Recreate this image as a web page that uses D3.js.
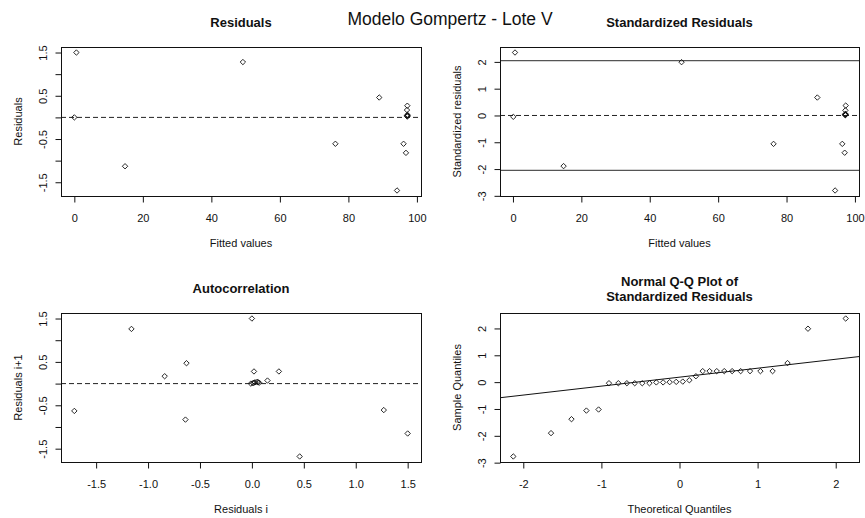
<!DOCTYPE html>
<html>
<head>
<meta charset="utf-8">
<script src="https://cdn.jsdelivr.net/npm/d3@7"></script>
<style>
  body { margin: 0; background: #fff; }
  text { font-family: "Liberation Sans", Arial, sans-serif; fill: #111; }
</style>
</head>
<body>
<svg id="chart" width="865" height="518"></svg>
<script>
// residuals vs fitted
var res_fitted = [0.6, 0.0, 14.8, 49.2, 76.2, 89.0, 97.2, 97.1, 97.2, 97.1, 97.3, 97.2, 97.2, 96.1, 96.8, 94.2];
var res_values = [1.50, 0.00, -1.13, 1.28, -0.61, 0.46, 0.27, 0.17, 0.06, 0.04, 0.05, 0.03, 0.02, -0.61, -0.82, -1.69];

// standardized residuals vs fitted
var std_fitted = [0.6, 0.1, 14.8, 49.3, 76.2, 89.0, 97.3, 97.2, 97.2, 97.1, 97.3, 97.2, 97.2, 96.3, 97.0, 94.2];
var std_values = [2.35, -0.05, -1.89, 1.99, -1.06, 0.67, 0.37, 0.19, 0.06, 0.03, 0.04, 0.02, 0.01, -1.06, -1.39, -2.80];
var std_limit = 2.05;

// autocorrelation: residual i vs residual i+1
var auto_i  = [-1.71, -1.16, -0.84, -0.63, -0.64, 0.00, 0.02, 0.26, 0.15, 0.06, -0.01, 0.01, 0.02, 0.03, 0.05, 0.07, 0.46, 1.27, 1.50];
var auto_i1 = [-0.63, 1.26, 0.17, 0.47, -0.83, 1.50, 0.28, 0.28, 0.07, 0.03, 0.00, 0.01, 0.02, 0.03, 0.04, 0.02, -1.68, -0.61, -1.15];

// normal Q-Q
var qq_theoretical = [-2.128, -1.645, -1.383, -1.192, -1.036, -0.903, -0.783, -0.674, -0.573, -0.477,
                      -0.385, -0.297, -0.210, -0.126, -0.042, 0.042, 0.126, 0.210, 0.297, 0.385,
                      0.477, 0.573, 0.674, 0.783, 0.903, 1.036, 1.192, 1.383, 1.645, 2.128];
var qq_sample = [-2.77, -1.90, -1.38, -1.06, -1.02, -0.04, -0.04, -0.04, -0.04, -0.04,
                 -0.04, -0.01, -0.01, 0.00, 0.01, 0.02, 0.07, 0.22, 0.41, 0.41,
                 0.41, 0.41, 0.41, 0.41, 0.41, 0.41, 0.41, 0.71, 1.99, 2.37];

// ticks
var fitted_ticks = [0, 20, 40, 60, 80, 100];
var res_ticks = [-1.5, -1, -0.5, 0, 0.5, 1, 1.5];
var res_tick_labels = [-1.5, -0.5, 0.5, 1.5];
var std_ticks = [-3, -2, -1, 0, 1, 2];
var auto_x_ticks = [-1.5, -1, -0.5, 0, 0.5, 1, 1.5];
var qq_x_ticks = [-2, -1, 0, 1, 2];

var svg = d3.select('#chart');

function pad(ext){
  var d = (ext[1] - ext[0]) * 0.04;
  return [ext[0] - d, ext[1] + d];
}

function draw_panel(p){
  var x = d3.scaleLinear().domain(pad(d3.extent(p.xs))).range([p.x0, p.x1]);
  var y = d3.scaleLinear().domain(pad(d3.extent(p.ys))).range([p.y1, p.y0]);
  var g = svg.append('g');

  // reference lines
  (p.dashed || []).forEach(function(v){
    g.append('line')
      .attr('x1', p.x0).attr('x2', p.x1)
      .attr('y1', y(v)).attr('y2', y(v))
      .attr('stroke', '#222').attr('stroke-dasharray', '5,3');
  });
  (p.solid || []).forEach(function(v){
    g.append('line')
      .attr('x1', p.x0).attr('x2', p.x1)
      .attr('y1', y(v)).attr('y2', y(v))
      .attr('stroke', '#555').attr('stroke-width', 1.2);
  });
  if (p.abline) {
    var xd = x.domain();
    g.append('line')
      .attr('x1', x(xd[0])).attr('x2', x(xd[1]))
      .attr('y1', y(p.abline[0] + p.abline[1] * xd[0]))
      .attr('y2', y(p.abline[0] + p.abline[1] * xd[1]))
      .attr('stroke', '#111');
  }

  // points
  g.selectAll('.pt')
    .data(p.xs.map(function(d, i){ return [d, p.ys[i]]; }))
    .enter().append('path')
    .attr('class', 'pt')
    .attr('d', 'M0,-2.7L2.7,0L0,2.7L-2.7,0Z')
    .attr('transform', function(d){ return 'translate(' + x(d[0]) + ',' + y(d[1]) + ')'; })
    .attr('fill', 'none')
    .attr('stroke', '#111')
    .attr('stroke-width', 0.9);

  // box
  g.append('rect')
    .attr('x', p.x0 + 0.5).attr('y', p.y0 + 0.5)
    .attr('width', p.x1 - p.x0).attr('height', p.y1 - p.y0)
    .attr('fill', 'none').attr('stroke', '#111');

  // x axis
  var xa = g.append('g')
    .attr('transform', 'translate(0,' + (p.y1 + 0.5) + ')')
    .call(d3.axisBottom(x).tickValues(p.xticks).tickSize(6).tickPadding(12)
      .tickFormat(p.xfmt || d3.format('')));
  xa.select('.domain').remove();
  xa.selectAll('line').attr('stroke', '#111');
  xa.selectAll('text').attr('font-size', '11px').attr('fill', '#111');
  xa.selectAll('text').text(function(){ return this.textContent.replace('\u2212', '-'); });

  // y axis, labels rotated like R
  var ya = g.append('g')
    .attr('transform', 'translate(' + (p.x0 + 0.5) + ',0)')
    .call(d3.axisLeft(y).tickValues(p.yticks).tickSize(6)
      .tickFormat(function(d){
        if (p.ylabels && p.ylabels.indexOf(d) < 0) return '';
        return (p.yfmt || d3.format(''))(d).replace('\u2212', '-');
      }));
  ya.select('.domain').remove();
  ya.selectAll('line').attr('stroke', '#111');
  ya.selectAll('text')
    .attr('x', null)
    .attr('transform', 'translate(-18,0) rotate(-90)')
    .attr('dy', '0.35em')
    .attr('text-anchor', 'middle')
    .attr('font-size', '11px').attr('fill', '#111');

  // axis titles
  g.append('text')
    .attr('x', (p.x0 + p.x1) / 2).attr('y', p.y1 + 51)
    .attr('text-anchor', 'middle').attr('font-size', '11px')
    .text(p.xlabel);
  g.append('text')
    .attr('transform', 'translate(' + (p.x0 - 42.5) + ',' + ((p.y0 + p.y1) / 2) + ') rotate(-90)')
    .attr('dy', '0.35em')
    .attr('text-anchor', 'middle').attr('font-size', '11px')
    .text(p.ylabel);

  // panel title
  var n = p.title.length;
  p.title.forEach(function(t, i){
    g.append('text')
      .attr('x', (p.x0 + p.x1) / 2)
      .attr('y', p.y0 - 20.5 - (n - 1 - i) * 15 + (n > 1 ? 8 : 0))
      .attr('text-anchor', 'middle')
      .attr('font-size', '13px').attr('font-weight', 'bold')
      .text(t);
  });
}

var f1 = d3.format('.1f');

draw_panel({
  x0: 61, x1: 421, y0: 47, y1: 196,
  xs: res_fitted, ys: res_values,
  xticks: fitted_ticks, yticks: res_ticks, ylabels: res_tick_labels, yfmt: f1,
  dashed: [0],
  title: ['Residuals'], xlabel: 'Fitted values', ylabel: 'Residuals'
});

draw_panel({
  x0: 500, x1: 859, y0: 47, y1: 196,
  xs: std_fitted, ys: std_values,
  xticks: fitted_ticks, yticks: std_ticks,
  dashed: [0], solid: [std_limit, -std_limit],
  title: ['Standardized Residuals'], xlabel: 'Fitted values', ylabel: 'Standardized residuals'
});

draw_panel({
  x0: 61, x1: 421, y0: 313, y1: 462,
  xs: auto_i, ys: auto_i1,
  xticks: auto_x_ticks, xfmt: f1, yticks: res_ticks, ylabels: res_tick_labels, yfmt: f1,
  dashed: [0],
  title: ['Autocorrelation'], xlabel: 'Residuals i', ylabel: 'Residuals i+1'
});

// qq line through the quartiles
var q1 = d3.quantile(qq_sample, 0.25), q3 = d3.quantile(qq_sample, 0.75);
var z = 0.6744898;
var qq_slope = (q3 - q1) / (2 * z);
var qq_int = q1 + qq_slope * z;

draw_panel({
  x0: 500, x1: 859, y0: 313, y1: 462,
  xs: qq_theoretical, ys: qq_sample,
  xticks: qq_x_ticks, yticks: std_ticks,
  abline: [qq_int, qq_slope],
  title: ['Normal Q-Q Plot of', 'Standardized Residuals'],
  xlabel: 'Theoretical Quantiles', ylabel: 'Sample Quantiles'
});

svg.append('text')
  .attr('x', 450).attr('y', 25)
  .attr('text-anchor', 'middle')
  .attr('font-size', '17.5px')
  .text('Modelo Gompertz - Lote V');
</script>
</body>
</html>
